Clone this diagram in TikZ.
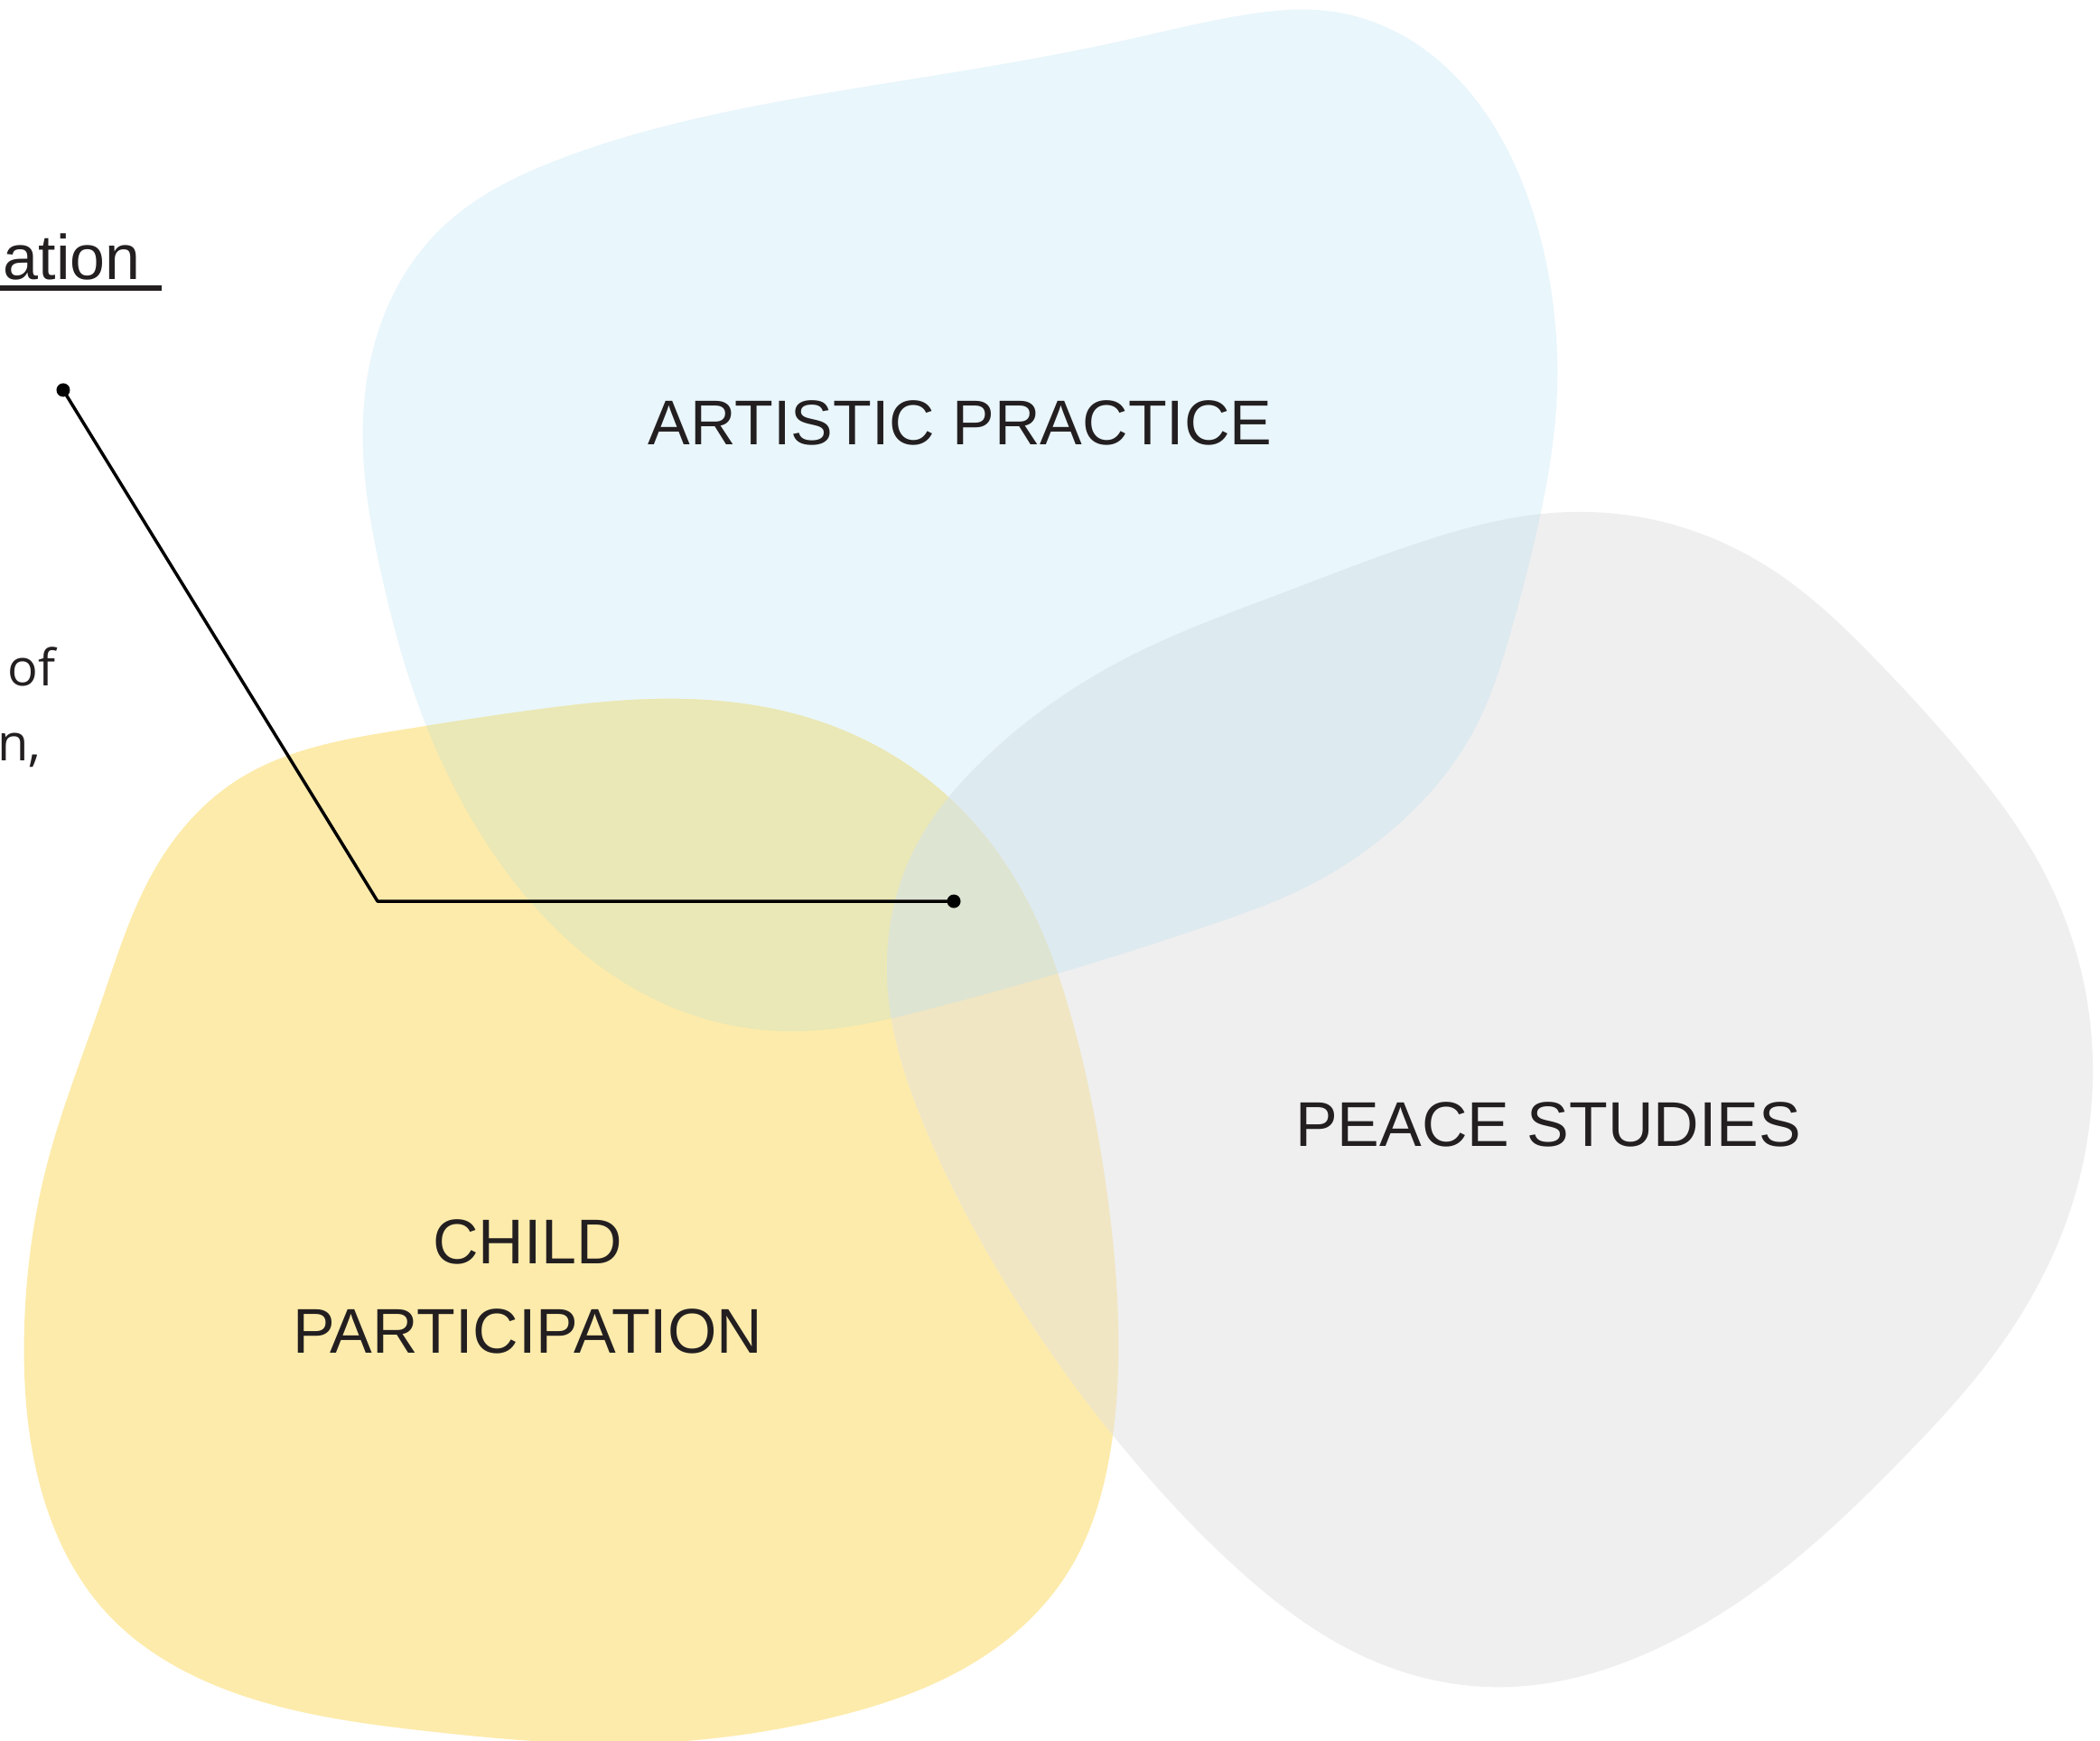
\documentclass[tikz,border=0pt]{standalone}
\usepackage{fontspec}
\usetikzlibrary{hobby}
\setmainfont{Liberation Sans}
\newfontfamily\smallfont{Open Sans}
\definecolor{txt}{HTML}{231F20}
\definecolor{cblue}{HTML}{E9F6FC}
\definecolor{cgrey}{HTML}{EFEFEF}
\definecolor{cyellow}{HTML}{FDEBAB}
\definecolor{cby}{HTML}{E9E8B6}
\definecolor{cbg}{HTML}{DDEAF0}
\definecolor{cyg}{HTML}{F0E6C3}
\definecolor{cbyg}{HTML}{DEE4D2}
\def\bluepath{plot[closed hobby] coordinates{(271,335) (285,240) (330,170) (420,118) (540,84) (700,56) (840,30) (930,11) (990,8) (1050,28) (1100,72) (1140,145) (1160,230) (1162,305) (1150,385) (1130,465) (1098,550) (1048,612) (980,660) (900,692) (800,724) (700,752) (600,770) (530,762) (460,730) (400,678) (350,608) (310,520) (285,430)}}
\def\greypath{plot[closed hobby] coordinates{(1160,383) (1250,392) (1330,430) (1400,492) (1462,560) (1520,640) (1555,730) (1562,820) (1540,920) (1490,1010) (1420,1090) (1340,1165) (1240,1230) (1120,1260) (1020,1238) (920,1168) (820,1058) (740,940) (690,840) (663,740) (680,640) (740,562) (840,492) (960,442) (1070,402)}}
\def\yellowpath{plot[closed hobby] coordinates{(490,522) (600,535) (690,580) (760,660) (800,760) (825,880) (835,990) (828,1090) (800,1170) (730,1240) (620,1283) (480,1302) (320,1293) (180,1266) (80,1205) (30,1110) (18,1000) (35,870) (75,750) (118,645) (178,582) (300,545) (400,530)}}
\tikzset{
  label/.style={text=txt, font=\fontsize{70}{99}\selectfont, align=center, inner sep=0pt},
  side/.style={text=txt, font=\smallfont\fontsize{56}{83}\selectfont, inner sep=0pt},
  dotnode/.style={circle, fill=black, inner sep=0pt, minimum size=15pt},
  conn/.style={draw=black, line width=3.5pt, line join=round}
}
\begin{document}
\begin{tikzpicture}[x=1.48278pt,y=-1.48278pt]
\useasboundingbox (0,0) rectangle (1568,1299.6);
\clip (0,0) rectangle (1568,1299.6);
% blobs
\fill[cblue] \bluepath;
\fill[cyellow] \yellowpath;
\fill[cgrey] \greypath;
\begin{scope}
  \clip \bluepath;
  \fill[cby] \yellowpath;
  \fill[cbg] \greypath;
\end{scope}
\begin{scope}
  \clip \yellowpath;
  \fill[cyg] \greypath;
\end{scope}
\begin{scope}
  \clip \bluepath;
  \clip \yellowpath;
  \fill[cbyg] \greypath;
\end{scope}
% labels
\node[label] (art) at (717,316) {ARTISTIC PRACTICE};
\node[label] (peace) at (1156,840) {PEACE STUDIES};
\node[label] (child) at (394,961) {CHILD\\PARTICIPATION};
% left text fragments
\node[text=txt, font=\fontsize{70}{84}\selectfont, inner sep=0pt, anchor=base east] (ation) at (105.2,209) {ation};
\fill[txt] (0,213.1) rectangle (120.7,217.2);
\node[side, anchor=base east] (of) at (41.8,512.5) {of};
\node[side, anchor=base west] (ncomma) at (-2,568.5) {n,};
% connector
\node[dotnode] (d1) at (47.2,291.3) {};
\node[dotnode] (d2) at (712.2,673.1) {};
\coordinate (corner) at (281.9,673.1);
\draw[conn] (d1.center) -- (corner) -- (d2.center);
\end{tikzpicture}
\end{document}
